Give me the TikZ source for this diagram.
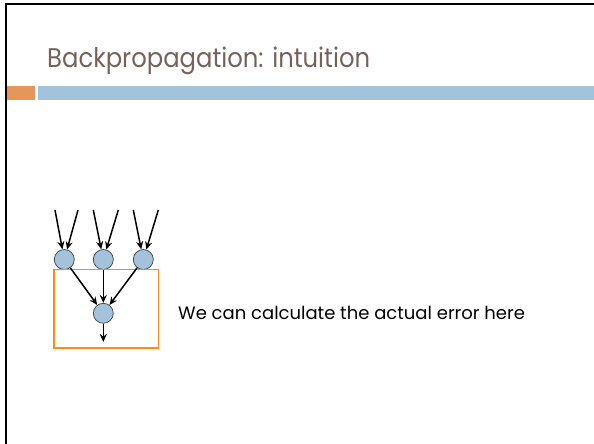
\documentclass[tikz,border=0pt]{standalone}
\usepackage{fontspec}
\setmainfont{Poppins}
\usetikzlibrary{arrows.meta}
\definecolor{titlec}{HTML}{76625C}
\definecolor{barorange}{HTML}{E6965A}
\definecolor{barblue}{HTML}{A3C2DC}
\definecolor{nodeblue}{HTML}{A3C2DC}
\definecolor{boxorange}{HTML}{FF8A1A}
\begin{document}
\begin{tikzpicture}[x=1pt,y=-1pt,
  unit/.style={circle,draw=black!75,fill=nodeblue,line width=0.7pt,minimum size=20pt,inner sep=0pt},
  conn/.style={-{Stealth[length=8pt,width=7pt]},line width=1.5pt}]
\useasboundingbox (0,0) rectangle (594,444);
\draw[line width=2pt] (6,444) -- (6,4) -- (594,4);
\node[anchor=base west,text=titlec,inner sep=0pt] (title) at (47,67) {\scalebox{0.9}[1]{\fontsize{27}{30}\selectfont Backpropagation: intuition}};
\fill[barorange] (7,86) rectangle (35,100);
\fill[barblue] (38,86) rectangle (594,100);
\node[unit] (h1) at (64.3,259.5) {};
\node[unit] (h2) at (103.3,259.5) {};
\node[unit] (h3) at (143.3,259.5) {};
\node[unit] (o) at (103.3,313.3) {};
\coordinate (a1) at (55,210);
\coordinate (b1) at (78,210);
\coordinate (a2) at (93.3,210);
\coordinate (b2) at (118.3,210);
\coordinate (a3) at (133.3,210);
\coordinate (b3) at (158.3,210);
\coordinate (out) at (103.3,342);
\draw[conn] (a1) -- (h1);
\draw[conn] (b1) -- (h1);
\draw[conn] (a2) -- (h2);
\draw[conn] (b2) -- (h2);
\draw[conn] (a3) -- (h3);
\draw[conn] (b3) -- (h3);
\draw[boxorange,line width=1.6pt] (54,269.3) rectangle (158.3,347.7);
\draw[conn] (h1) -- (o);
\draw[conn] (h2) -- (o);
\draw[conn] (h3) -- (o);
\draw[conn] (o) -- (out);
\node[anchor=base west,inner sep=0pt,font=\fontsize{18}{21}\selectfont] (txt) at (178,319) {We can calculate the actual error here};
\end{tikzpicture}
\end{document}
